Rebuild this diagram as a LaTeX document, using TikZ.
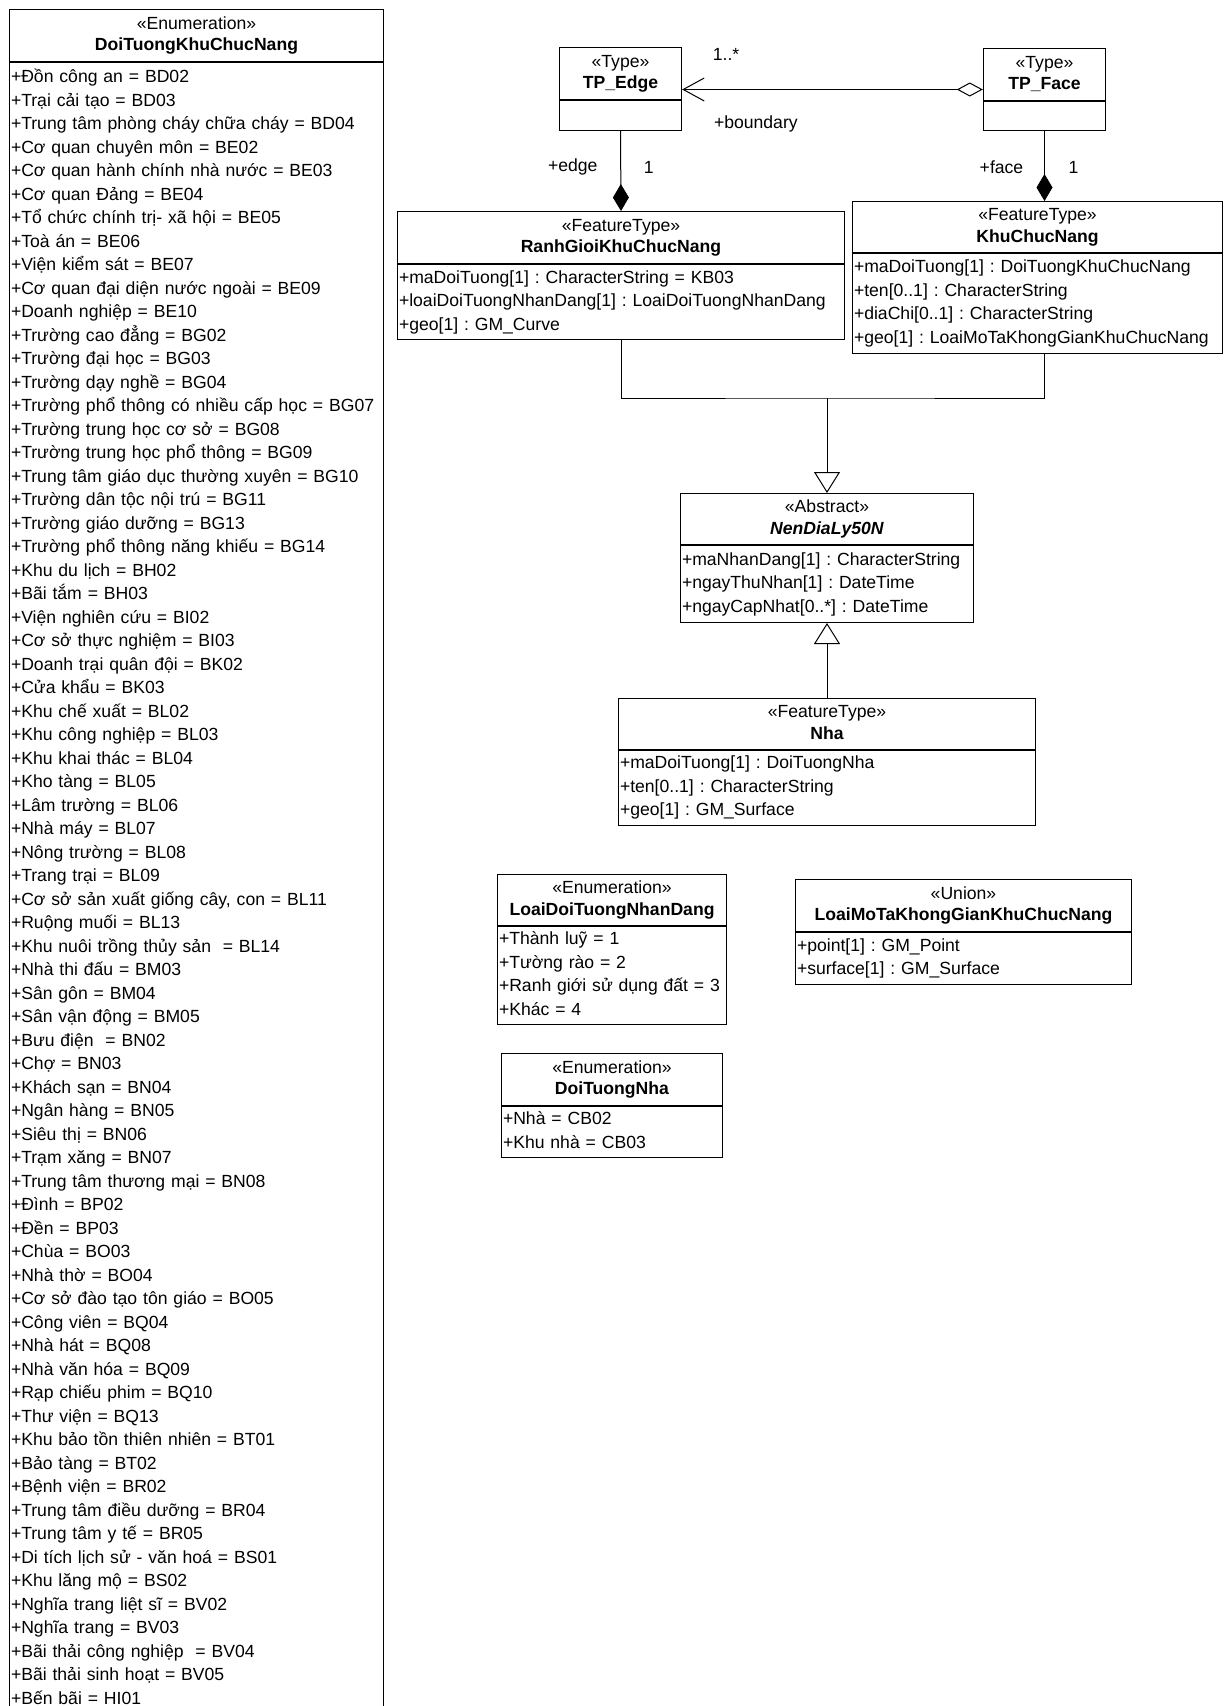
\documentclass[tikz,border=0pt]{standalone}
\usepackage{fontspec}
\setmainfont{Liberation Sans}
\usetikzlibrary{arrows.meta,fit}
\frenchspacing
\tikzset{
  umlhead/.style={draw=black, line width=1pt, anchor=north west, align=center, inner xsep=1.5pt, inner ysep=0pt, minimum height=52pt, text width=#1, font=\fontsize{17.6}{21.5}\selectfont, execute at begin node=\strut, execute at end node=\strut},
  umlbody/.style={draw=black, line width=1pt, anchor=north west, align=left, inner xsep=1.5pt, inner ysep=2pt, text width=#1, execute at begin node=\strut, execute at end node=\strut},
  umlline/.style={line width=1pt},
  umlassoc/.style={line width=1pt, {Diamond[open,length=26pt,width=14pt]}-{Straight Barb[length=21pt,width=23pt]}},
  umlcompo/.style={line width=1pt, {Diamond[length=27pt,width=16pt]}-},
  umlinherit/.style={line width=1pt, -{Triangle[open,length=21pt,width=26pt]}}
}
\begin{document}
\begin{tikzpicture}[x=1pt, y=-1pt, font=\fontsize{17.6}{23.5}\selectfont]
  \fill[white] (0,0) rectangle (1225,1706);
  \useasboundingbox (0,0) rectangle (1225,1706);

  \node[umlhead=371pt] (dtkh) at (9,9) {«Enumeration»\\\textbf{DoiTuongKhuChucNang}};
  \node[umlbody=371pt, inner ysep=4pt] (dtkb) at (dtkh.south west) {+Đồn công an = BD02\\
+Trại cải tạo = BD03\\
+Trung tâm phòng cháy chữa cháy = BD04\\
+Cơ quan chuyên môn = BE02\\
+Cơ quan hành chính nhà nước = BE03\\
+Cơ quan Đảng = BE04\\
+Tổ chức chính trị- xã hội = BE05\\
+Toà án = BE06\\
+Viện kiểm sát = BE07\\
+Cơ quan đại diện nước ngoài = BE09\\
+Doanh nghiệp = BE10\\
+Trường cao đẳng = BG02\\
+Trường đại học = BG03\\
+Trường dạy nghề = BG04\\
\mbox{+Trường phổ thông có nhiều cấp học = BG07}\\
+Trường trung học cơ sở = BG08\\
+Trường trung học phổ thông = BG09\\
+Trung tâm giáo dục thường xuyên = BG10\\
+Trường dân tộc nội trú = BG11\\
+Trường giáo dưỡng = BG13\\
+Trường phổ thông năng khiếu = BG14\\
+Khu du lịch = BH02\\
+Bãi tắm = BH03\\
+Viện nghiên cứu = BI02\\
+Cơ sở thực nghiệm = BI03\\
+Doanh trại quân đội = BK02\\
+Cửa khẩu = BK03\\
+Khu chế xuất = BL02\\
+Khu công nghiệp = BL03\\
+Khu khai thác = BL04\\
+Kho tàng = BL05\\
+Lâm trường = BL06\\
+Nhà máy = BL07\\
+Nông trường = BL08\\
+Trang trại = BL09\\
+Cơ sở sản xuất giống cây, con = BL11\\
+Ruộng muối = BL13\\
+Khu nuôi trồng thủy sản\ \ = BL14\\
+Nhà thi đấu = BM03\\
+Sân gôn = BM04\\
+Sân vận động = BM05\\
+Bưu điện\ \ = BN02\\
+Chợ = BN03\\
+Khách sạn = BN04\\
+Ngân hàng = BN05\\
+Siêu thị = BN06\\
+Trạm xăng = BN07\\
+Trung tâm thương mại = BN08\\
+Đình = BP02\\
+Đền = BP03\\
+Chùa = BO03\\
+Nhà thờ = BO04\\
+Cơ sở đào tạo tôn giáo = BO05\\
+Công viên = BQ04\\
+Nhà hát = BQ08\\
+Nhà văn hóa = BQ09\\
+Rạp chiếu phim = BQ10\\
+Thư viện = BQ13\\
+Khu bảo tồn thiên nhiên = BT01\\
+Bảo tàng = BT02\\
+Bệnh viện = BR02\\
+Trung tâm điều dưỡng = BR04\\
+Trung tâm y tế = BR05\\
+Di tích lịch sử - văn hoá = BS01\\
+Khu lăng mộ = BS02\\
+Nghĩa trang liệt sĩ = BV02\\
+Nghĩa trang = BV03\\
+Bãi thải công nghiệp\ \ = BV04\\
+Bãi thải sinh hoạt = BV05\\
+Bến bãi = HI01};

  \node[umlhead=119pt] (edgeh) at (559,47) {«Type»\\\textbf{TP\_Edge}};
  \node[umlbody=119pt, minimum height=30pt] (edgeb) at (edgeh.south west) {};
  \node[fit=(edgeh)(edgeb), inner sep=0pt] (edge) {};

  \node[umlhead=119pt] (faceh) at (983,48) {«Type»\\\textbf{TP\_Face}};
  \node[umlbody=119pt, minimum height=29pt] (faceb) at (faceh.south west) {};
  \node[fit=(faceh)(faceb), inner sep=0pt] (face) {};

  \node[umlhead=444pt] (ranhh) at (397,211) {«FeatureType»\\\textbf{RanhGioiKhuChucNang}};
  \node[umlbody=444pt, minimum height=75pt] (ranhb) at (ranhh.south west) {+maDoiTuong[1] : CharacterString = KB03\\
+loaiDoiTuongNhanDang[1] : LoaiDoiTuongNhanDang\\
+geo[1] : GM\_Curve};

  \node[umlhead=367pt, minimum height=51pt] (khuh) at (852,201) {«FeatureType»\\\textbf{KhuChucNang}};
  \node[umlbody=367pt, minimum height=100pt] (khub) at (khuh.south west) {+maDoiTuong[1] : DoiTuongKhuChucNang\\
+ten[0..1] : CharacterString\\
+diaChi[0..1] : CharacterString\\
+geo[1] : LoaiMoTaKhongGianKhuChucNang};

  \node[umlhead=290pt, minimum height=51pt] (nenh) at (680,493) {«Abstract»\\\textbf{\textit{NenDiaLy50N}}};
  \node[umlbody=290pt, minimum height=77pt] (nenb) at (nenh.south west) {+maNhanDang[1] : CharacterString\\
+ngayThuNhan[1] : DateTime\\
+ngayCapNhat[0..*] : DateTime};

  \node[umlhead=414pt, minimum height=51pt] (nhah) at (618,698) {«FeatureType»\\\textbf{Nha}};
  \node[umlbody=414pt, minimum height=74pt] (nhab) at (nhah.south west) {+maDoiTuong[1] : DoiTuongNha\\
+ten[0..1] : CharacterString\\
+geo[1] : GM\_Surface};

  \node[umlhead=226pt, minimum height=51pt] (ldth) at (497,874) {«Enumeration»\\\textbf{LoaiDoiTuongNhanDang}};
  \node[umlbody=226pt, minimum height=98pt] (ldtb) at (ldth.south west) {+Thành luỹ = 1\\
+Tường rào = 2\\
+Ranh giới sử dụng đất = 3\\
+Khác = 4};

  \node[umlhead=333pt] (lmth) at (795,879) {«Union»\\\textbf{LoaiMoTaKhongGianKhuChucNang}};
  \node[umlbody=333pt, minimum height=52pt] (lmtb) at (lmth.south west) {+point[1] : GM\_Point\\
+surface[1] : GM\_Surface};

  \node[umlhead=218pt] (dtnh) at (501,1053) {«Enumeration»\\\textbf{DoiTuongNha}};
  \node[umlbody=218pt, minimum height=51pt] (dtnb) at (dtnh.south west) {+Nhà = CB02\\
+Khu nhà = CB03};

  \draw[umlassoc] (face.west) -- (edge.east |- face.west)
    node[pos=0.854, yshift=35pt] {1..*}
    node[pos=0.755, yshift=-34pt] {+boundary};
  \draw[umlcompo] (ranhh.north) -- (edgeb.south)
    node[pos=0.55, xshift=-48pt] {+edge}
    node[pos=0.55, xshift=28pt] {1};
  \draw[umlcompo] (khuh.north -| faceb.south) -- (faceb.south)
    node[pos=0.48, xshift=-43pt] {+face}
    node[pos=0.48, xshift=29pt] {1};

  \coordinate (join) at ([yshift=95pt]nenh.north);
  \draw[umlline] (ranhb.south) |- (join) -| (khub.south -| faceb.south);
  \draw[umlinherit] (join) -- (nenh.north);
  \draw[umlinherit] (nhah.north) -- (nenb.south);
\end{tikzpicture}
\end{document}
